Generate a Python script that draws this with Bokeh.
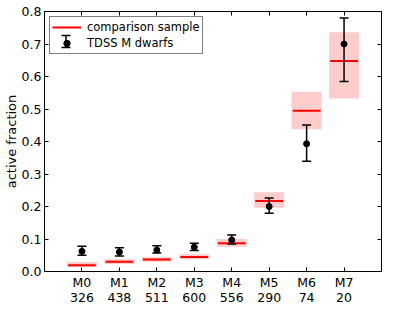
from bokeh.plotting import figure
from bokeh.models import (ColumnDataSource, Range1d, FixedTicker, LinearAxis,
                          Whisker, TeeHead, Legend, LegendItem, CustomLabelingPolicy)
from bokeh.embed import file_html
from bokeh.resources import INLINE

# ---- data ----
spectral_types = ["M0", "M1", "M2", "M3", "M4", "M5", "M6", "M7"]
counts = [326, 438, 511, 600, 556, 290, 74, 20]

tdss_frac = [0.062, 0.060, 0.066, 0.075, 0.097, 0.200, 0.393, 0.700]
tdss_upper = [0.078, 0.073, 0.079, 0.087, 0.112, 0.226, 0.451, 0.780]
tdss_lower = [0.050, 0.048, 0.057, 0.065, 0.085, 0.179, 0.339, 0.585]

comp_frac = [0.019, 0.030, 0.037, 0.045, 0.087, 0.217, 0.495, 0.648]
comp_upper = [0.029, 0.038, 0.045, 0.053, 0.100, 0.244, 0.553, 0.736]
comp_lower = [0.014, 0.023, 0.030, 0.038, 0.076, 0.196, 0.438, 0.532]

y_ticks = [0.0, 0.1, 0.2, 0.3, 0.4, 0.5, 0.6, 0.7, 0.8]

# ---- styles ----
FONT = "DejaVu Sans"
BOX_W = 0.8
LINE_HALF = 0.37

xpos = list(range(len(spectral_types)))

src = ColumnDataSource(dict(
    x=xpos,
    x0=[v - LINE_HALF for v in xpos],
    x1=[v + LINE_HALF for v in xpos],
    tdss=tdss_frac, tup=tdss_upper, tlo=tdss_lower,
    comp=comp_frac, cup=comp_upper, clo=comp_lower,
))

p = figure(width=399, height=304, output_backend="svg", toolbar_location=None,
           x_range=Range1d(-1, 8), y_range=Range1d(0, 0.8),
           min_border_left=36, min_border_right=4, min_border_top=8,
           min_border_bottom=10)
p.xgrid.visible = False
p.ygrid.visible = False
p.outline_line_color = "black"
p.outline_line_width = 1
p.background_fill_color = "white"
p.border_fill_color = "white"

# comparison sample: shaded boxes + red lines
p.vbar(x="x", width=BOX_W, top="cup", bottom="clo", source=src,
       fill_color="#ffcccc", line_color=None)
seg = p.segment(x0="x0", x1="x1", y0="comp", y1="comp", source=src,
                line_color="#ff0000", line_width=2)

# TDSS points with error bars
wh = Whisker(base="x", upper="tup", lower="tlo", source=src, level="overlay",
             line_color="black", line_width=1.5,
             upper_head=TeeHead(size=9, line_color="black", line_width=1.5),
             lower_head=TeeHead(size=9, line_color="black", line_width=1.5))
p.add_layout(wh)
pts = p.scatter(x="x", y="tdss", source=src, size=6, marker="circle",
                fill_color="black", line_color="black", level="overlay")

# axes
xt = FixedTicker(ticks=xpos)
yt = FixedTicker(ticks=y_ticks)
p.xaxis.ticker = xt
p.yaxis.ticker = yt
p.xaxis.major_label_overrides = {i: s for i, s in enumerate(spectral_types)}
p.yaxis.major_label_overrides = {t: f"{t:.1f}" for t in y_ticks}
for ax in (p.xaxis[0], p.yaxis[0]):
    ax.major_tick_in = 4
    ax.major_tick_out = 0
    ax.minor_tick_in = 0
    ax.minor_tick_out = 0
    ax.axis_line_color = "black"
    ax.major_tick_line_color = "black"
    ax.major_label_text_font = FONT
    ax.major_label_text_font_size = "12.5px"
    ax.major_label_text_color = "black"
p.xaxis.major_label_standoff = 3
p.xaxis.major_label_text_line_height = 0.8
p.xaxis.axis_label_standoff = 0
p.yaxis.major_label_standoff = 3
p.yaxis.axis_label = "active fraction"
p.yaxis.axis_label_text_font = FONT
p.yaxis.axis_label_text_font_size = "13px"
p.yaxis.axis_label_text_font_style = "normal"
p.yaxis.axis_label_text_color = "black"
p.yaxis.axis_label_standoff = 0

# second row of x labels: number of objects per spectral type
counts_axis = LinearAxis(ticker=xt,
                         major_label_overrides={i: str(c) for i, c in enumerate(counts)},
                         major_tick_in=0, major_tick_out=0,
                         minor_tick_in=0, minor_tick_out=0,
                         major_tick_line_color=None, minor_tick_line_color=None,
                         axis_line_color=None, major_label_standoff=0,
                         axis_label_standoff=0,
                         major_label_text_font=FONT,
                         major_label_text_font_size="12.5px",
                         major_label_text_line_height=0.8,
                         major_label_text_color="black")
p.add_layout(counts_axis, "below")

hide_all = CustomLabelingPolicy(code="for (const i of Array.from(indices)) { indices.unset(i) } return indices")
right = LinearAxis(ticker=yt, major_tick_in=4, major_tick_out=0,
                   minor_tick_in=0, minor_tick_out=0,
                   major_label_policy=hide_all, major_label_standoff=0,
                   axis_label_standoff=0, axis_line_color=None)
above = LinearAxis(ticker=xt, major_tick_in=4, major_tick_out=0,
                   minor_tick_in=0, minor_tick_out=0,
                   major_label_policy=hide_all, major_label_standoff=0,
                   axis_label_standoff=0, axis_line_color=None)
p.add_layout(right, "right")
p.add_layout(above, "above")

legend = Legend(items=[LegendItem(label="comparison sample", renderers=[seg]),
                       LegendItem(label="TDSS M dwarfs", renderers=[pts])],
                location="top_left", margin=5, padding=2, spacing=0,
                glyph_height=16, glyph_width=29, label_height=16,
                label_standoff=6, label_text_font=FONT,
                label_text_font_size="11.5px", label_text_color="black",
                border_line_color="black", border_line_width=1,
                background_fill_alpha=0.0)
p.add_layout(legend)

# error-bar symbol for the legend entry (screen units, relative to frame)
leg_src = ColumnDataSource(dict(b=[21.5], u=[236], l=[224]))
leg_wh = Whisker(base="b", upper="u", lower="l", source=leg_src, level="overlay",
                 base_units="screen", upper_units="screen", lower_units="screen",
                 line_color="black", line_width=1.5,
                 upper_head=TeeHead(size=9, line_color="black", line_width=1.5),
                 lower_head=TeeHead(size=9, line_color="black", line_width=1.5))
p.add_layout(leg_wh)

open("out.html", "w").write(file_html(p, INLINE))
